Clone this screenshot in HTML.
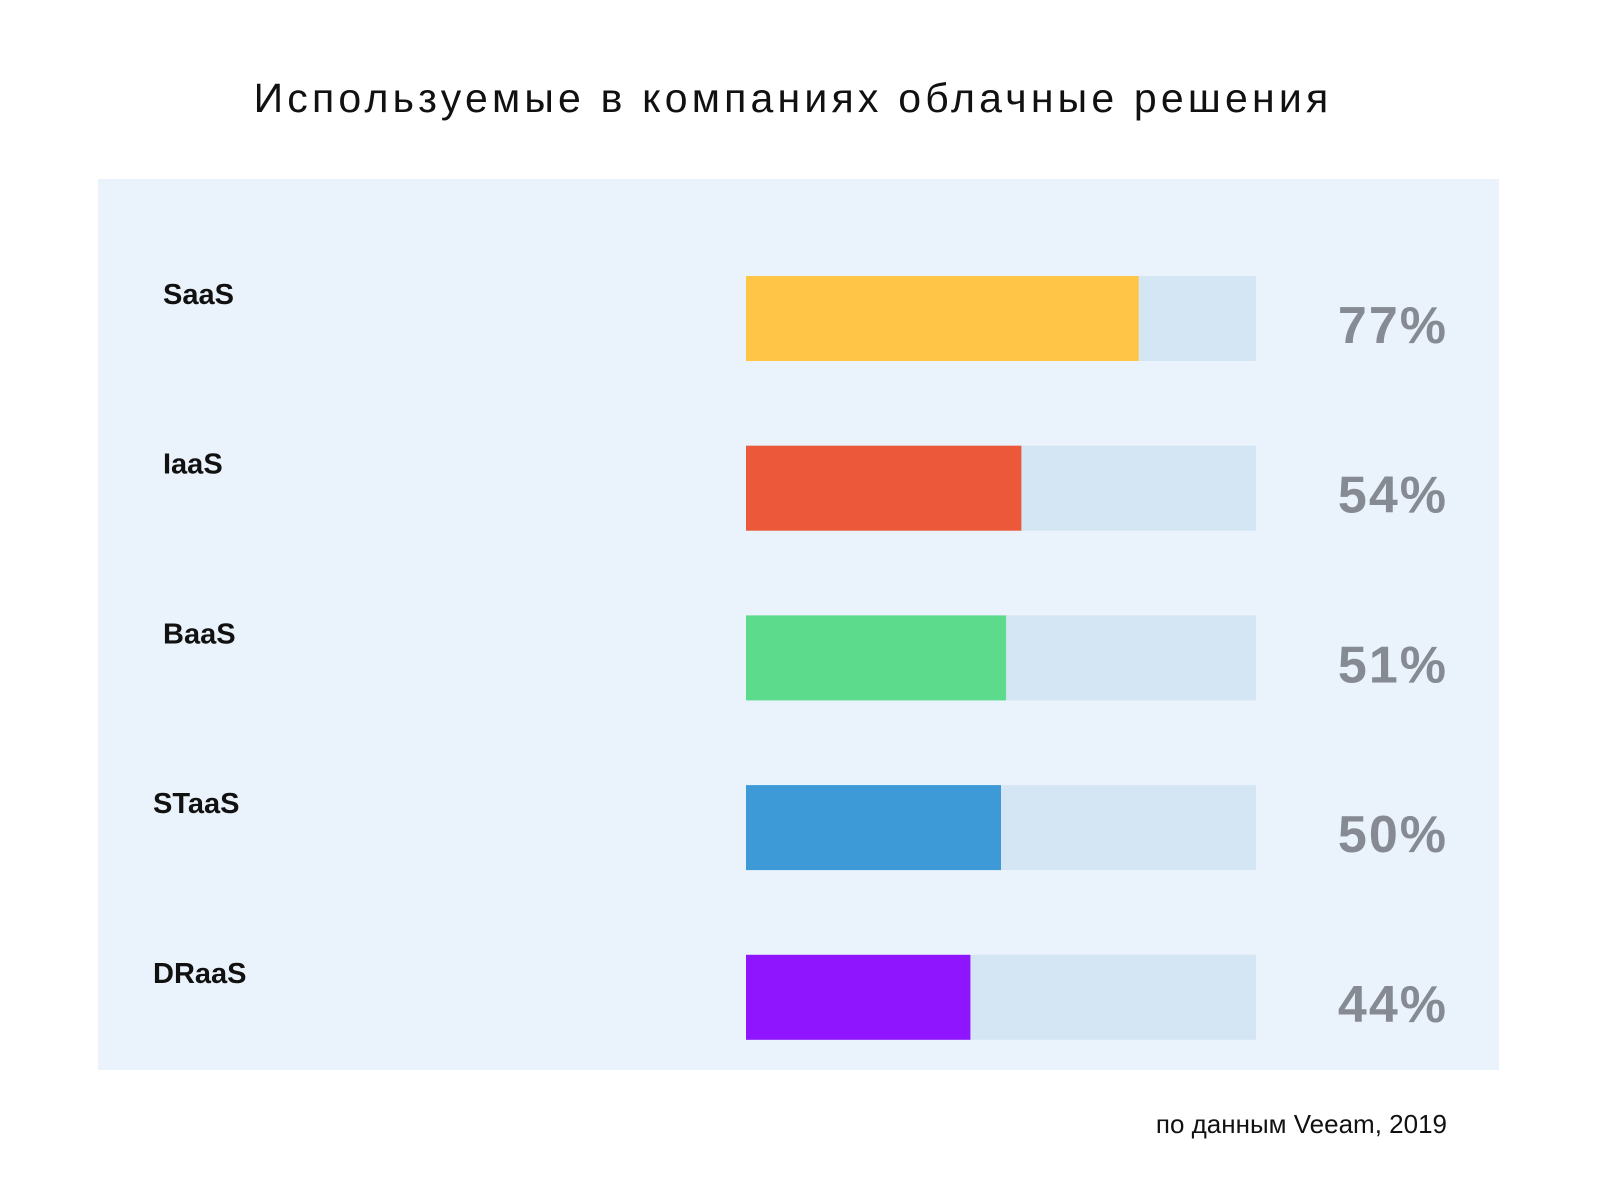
<!DOCTYPE html>
<html><head><meta charset="utf-8">
<style>
body{margin:0;width:1600px;height:1195px;background:#fff;overflow:hidden;font-family:"Liberation Sans",sans-serif;}
</style></head>
<body>
<svg width="1600" height="1195">
<text x="793" y="112" text-anchor="middle" font-size="41" letter-spacing="4.2" fill="#111" font-family="Liberation Sans, sans-serif">Используемые в компаниях облачные решения</text>
<rect x="98" y="179" width="1401" height="891" fill="#eaf2fb"/>
<g id="bars"></g>
<text x="1447" y="1133" text-anchor="end" font-size="26" fill="#111">по данным Veeam, 2019</text>
</svg>
<script>
const categories=["SaaS","IaaS","BaaS","STaaS","DRaaS"];
const values=[77,54,51,50,44];
const colors=["#fec547","#ec593a","#5ddb8c","#3d9ad7","#8e15fe"];
const labelX=[163,163,163,153,153];
const x0=746,x1=1256,top0=276,step=169.7,bh=85;
const xs=v=>x0+(x1-x0)*v/100;
const ys=i=>top0+i*step;
const g=document.getElementById('bars');
const NS="http://www.w3.org/2000/svg";
categories.forEach((c,i)=>{
 const y=ys(i);
 const t=document.createElementNS(NS,'rect');
 
 
 t.setAttribute('x',x0);t.setAttribute('y',y);t.setAttribute('width',x1-x0);t.setAttribute('height',bh);t.setAttribute('fill','#d4e6f4');
 g.appendChild(t);
 const b=document.createElementNS(NS,'rect');
 
 
 b.setAttribute('x',x0);b.setAttribute('y',y);b.setAttribute('width',xs(values[i])-x0);b.setAttribute('height',bh);b.setAttribute('fill',colors[i]);
 g.appendChild(b);
 const l=document.createElementNS(NS,'text');
 
 
 l.setAttribute('x',labelX[i]);l.setAttribute('y',y+28);l.setAttribute('font-size','29');l.setAttribute('font-weight','bold');l.setAttribute('fill','#111');
 l.textContent=c;g.appendChild(l);
 const v=document.createElementNS(NS,'text');
 
 
 v.setAttribute('x',1448);v.setAttribute('y',y+67);v.setAttribute('text-anchor','end');v.setAttribute('font-size','52');v.setAttribute('font-weight','bold');v.setAttribute('letter-spacing','2');v.setAttribute('fill','#868a93');
 v.textContent=values[i]+'%';g.appendChild(v);
});
</script>
</body></html>
